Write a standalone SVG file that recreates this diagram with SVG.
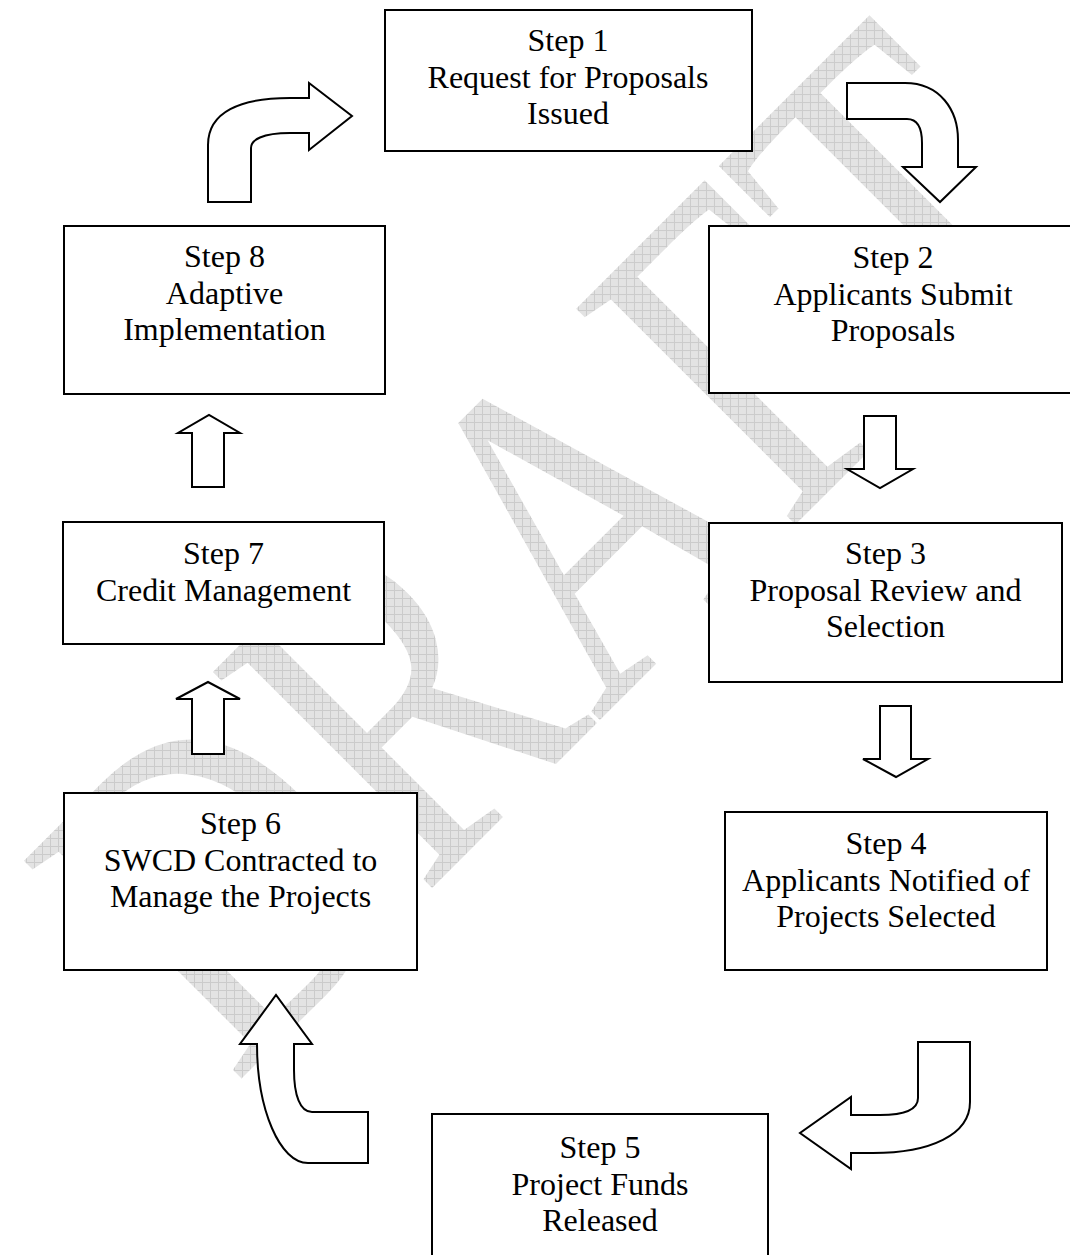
<svg xmlns="http://www.w3.org/2000/svg" width="1070" height="1255" viewBox="0 0 1070 1255">
<defs>
<style>
.box{fill:#fff;stroke:#000;stroke-width:2}
.arr{fill:#fff;stroke:#000;stroke-width:2;stroke-linejoin:miter}
.lbl{font-family:"Liberation Serif","Times New Roman",serif;font-size:32px;fill:#000;text-anchor:middle}
.wm{font-family:"Liberation Serif","Times New Roman",serif;font-size:470px;fill:url(#grid)}
</style>
<pattern id="grid" width="8" height="8" patternUnits="userSpaceOnUse" patternTransform="scale(1.2706,1) rotate(45)">
<rect width="8" height="8" fill="#e3e3e3"/>
<path d="M0 0.5H8M0.5 0V8" stroke="#cbcbcb" stroke-width="1"/>
</pattern>
</defs>
<rect width="1070" height="1255" fill="#fff"/>
<g id="watermark">
<text class="wm" transform="translate(234,1086) rotate(-45) scale(0.787,1)">DRAFT</text>
</g>
<g id="connectors">
<path class="arr" d="M208,202 L208,145 C208,112 240,98 290,98 L309,98 L309,83 L352,116 L309,150 L309,133 L290,133 C262,133 251,140 251,148 L251,202 Z"/>
<path class="arr" d="M847,83 L905,83 C940,83 958,110 958,140 L958,167 L976,167 L940,202 L903,167 L922,167 L922,143 C922,128 917,119 907,119 L847,119 Z"/>
<path class="arr" d="M864,416 L896,416 L896,469 L913,469 L880,488 L847,469 L864,469 Z"/>
<path class="arr" d="M880,706 L911,706 L911,759 L928,759 L896,777 L863,759 L880,759 Z"/>
<path class="arr" d="M918,1042 L970,1042 L970,1102 C970,1135 930,1153 873,1153 L851,1153 L851,1169 L800,1133 L851,1097 L851,1115 L880,1115 C905,1115 918,1110 918,1098 Z"/>
<path class="arr" d="M368,1112 L368,1163 L308,1163 C280,1163 257,1110 257,1044 L240,1044 L276,995 L312,1044 L294,1044 L294,1070 C294,1095 300,1112 312,1112 Z"/>
<path class="arr" d="M192,487 L192,433 L178,433 L209,415 L240,433 L224,433 L224,487 Z"/>
<path class="arr" d="M192,754 L192,699 L176,699 L208,682 L240,699 L224,699 L224,754 Z"/>
</g>
<g id="step1">
<rect class="box" x="385" y="10" width="367" height="141"/>
<text class="lbl" x="568" y="51">Step 1</text>
<text class="lbl" x="568" y="87.5">Request for Proposals</text>
<text class="lbl" x="568" y="124">Issued</text>
</g>
<g id="step2">
<rect class="box" x="709" y="226" width="368" height="167"/>
<text class="lbl" x="893" y="268">Step 2</text>
<text class="lbl" x="893" y="304.5">Applicants Submit</text>
<text class="lbl" x="893" y="341">Proposals</text>
</g>
<g id="step3">
<rect class="box" x="709" y="523" width="353" height="159"/>
<text class="lbl" x="885.5" y="564">Step 3</text>
<text class="lbl" x="885.5" y="600.5">Proposal Review and</text>
<text class="lbl" x="885.5" y="637">Selection</text>
</g>
<g id="step4">
<rect class="box" x="725" y="812" width="322" height="158"/>
<text class="lbl" x="886" y="854">Step 4</text>
<text class="lbl" x="886" y="890.5">Applicants Notified of</text>
<text class="lbl" x="886" y="927">Projects Selected</text>
</g>
<g id="step5">
<rect class="box" x="432" y="1114" width="336" height="160"/>
<text class="lbl" x="600" y="1158">Step 5</text>
<text class="lbl" x="600" y="1194.5">Project Funds</text>
<text class="lbl" x="600" y="1231">Released</text>
</g>
<g id="step6">
<rect class="box" x="64" y="793" width="353" height="177"/>
<text class="lbl" x="240.5" y="834">Step 6</text>
<text class="lbl" x="240.5" y="870.5">SWCD Contracted to</text>
<text class="lbl" x="240.5" y="907">Manage the Projects</text>
</g>
<g id="step7">
<rect class="box" x="63" y="522" width="321" height="122"/>
<text class="lbl" x="223.5" y="564">Step 7</text>
<text class="lbl" x="223.5" y="600.5">Credit Management</text>
</g>
<g id="step8">
<rect class="box" x="64" y="226" width="321" height="168"/>
<text class="lbl" x="224.5" y="267">Step 8</text>
<text class="lbl" x="224.5" y="303.5">Adaptive</text>
<text class="lbl" x="224.5" y="340">Implementation</text>
</g>
</svg>
